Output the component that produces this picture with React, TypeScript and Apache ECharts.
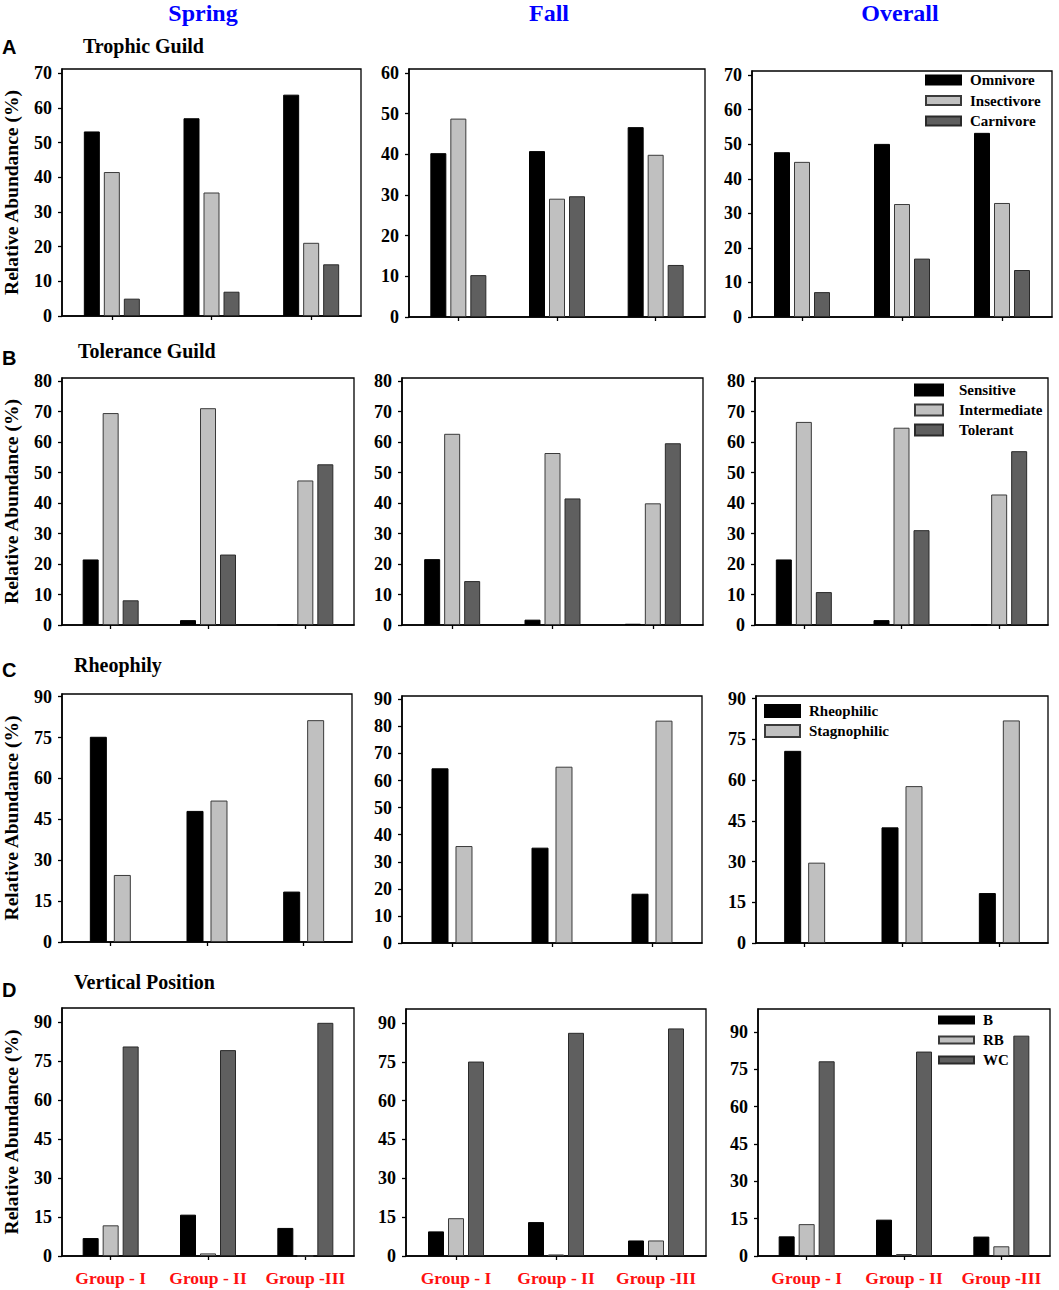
import React, { useEffect, useRef } from "react";
import * as echarts from "echarts";

// ---------- data ----------
const groups = ["Group - I", "Group - II", "Group -III"];
const seasons = ["Spring", "Fall", "Overall"];

const trophicNames = ["Omnivore", "Insectivore", "Carnivore"];
const trophicSpring = [[53.2, 57.0, 63.8], [41.5, 35.6, 21.1], [5.0, 7.0, 14.9]];
const trophicFall = [[40.3, 40.8, 46.7], [48.8, 29.1, 39.9], [10.3, 29.7, 12.8]];
const trophicOverall = [[47.7, 50.1, 53.3], [44.9, 32.7, 33.0], [7.2, 16.9, 13.6]];

const toleranceNames = ["Sensitive", "Intermediate", "Tolerant"];
const toleranceSpring = [[21.5, 1.6, 0], [69.5, 71.1, 47.4], [8.1, 23.1, 52.7]];
const toleranceFall = [[21.6, 1.75, 0.4], [62.7, 56.4, 39.9], [14.4, 41.5, 59.6]];
const toleranceOverall = [[21.5, 1.6, 0], [66.6, 64.7, 42.8], [10.8, 31.1, 57.0]];

const rheoNames = ["Rheophilic", "Stagnophilic"];
const rheoSpring = [[75.3, 48.1, 18.5], [24.6, 51.9, 81.4]];
const rheoFall = [[64.5, 35.2, 18.2], [35.8, 65.1, 82.1]];
const rheoOverall = [[70.8, 42.6, 18.4], [29.6, 57.8, 82.0]];

const vertNames = ["B", "RB", "WC"];
const vertSpring = [[6.9, 15.9, 10.8], [11.8, 1.0, 0], [80.6, 79.2, 89.7]];
const vertFall = [[9.5, 13.1, 6.0], [14.6, 0.6, 6.0], [75.1, 86.2, 87.9]];
const vertOverall = [[7.9, 14.6, 7.8], [12.8, 0.8, 3.9], [78.2, 82.1, 88.5]];

const ticks0to70 = [0, 10, 20, 30, 40, 50, 60, 70];
const ticks0to60 = [0, 10, 20, 30, 40, 50, 60];
const ticks0to80 = [0, 10, 20, 30, 40, 50, 60, 70, 80];
const ticks0to90by10 = [0, 10, 20, 30, 40, 50, 60, 70, 80, 90];
const ticks0to90by15 = [0, 15, 30, 45, 60, 75, 90];

const rowTitles = ["Trophic Guild", "Tolerance Guild", "Rheophily", "Vertical Position"];
const rowLetters = ["A", "B", "C", "D"];

// ---------- styling ----------
const SERIF = "'Liberation Serif', 'Times New Roman', serif";
const SANS = "'Liberation Sans', Arial, sans-serif";
const barColors = ["#000000", "#c0c0c0", "#5f5f5f"];
const barBorders = ["#000000", "#3a3a3a", "#2a2a2a"];

type Panel = {
  rect: [number, number, number, number];
  names: string[];
  data: number[][];
  ticks: number[];
  interval: number;
  max: number;
  barWidth: number;
  barGap: string;
  showX: boolean;
  yName: boolean;
};

const panels: Panel[] = [
  { rect: [61, 69, 361, 316], names: trophicNames, data: trophicSpring, ticks: ticks0to70, interval: 10, max: 71.2, barWidth: 16, barGap: "25%", showX: false, yName: true },
  { rect: [409, 69, 705, 317], names: trophicNames, data: trophicFall, ticks: ticks0to60, interval: 10, max: 61, barWidth: 16, barGap: "25%", showX: false, yName: false },
  { rect: [752, 71, 1052, 317], names: trophicNames, data: trophicOverall, ticks: ticks0to70, interval: 10, max: 71.2, barWidth: 16, barGap: "25%", showX: false, yName: false },

  { rect: [61, 378, 354, 625], names: toleranceNames, data: toleranceSpring, ticks: ticks0to80, interval: 10, max: 81, barWidth: 16, barGap: "25%", showX: false, yName: true },
  { rect: [402, 378, 703, 625], names: toleranceNames, data: toleranceFall, ticks: ticks0to80, interval: 10, max: 81, barWidth: 16, barGap: "25%", showX: false, yName: false },
  { rect: [755, 378, 1048, 625], names: toleranceNames, data: toleranceOverall, ticks: ticks0to80, interval: 10, max: 81, barWidth: 16, barGap: "25%", showX: false, yName: false },

  { rect: [61, 694, 352, 942], names: rheoNames, data: rheoSpring, ticks: ticks0to90by15, interval: 15, max: 91, barWidth: 17, barGap: "41%", showX: false, yName: true },
  { rect: [402, 696, 702, 943], names: rheoNames, data: rheoFall, ticks: ticks0to90by10, interval: 10, max: 91.2, barWidth: 17, barGap: "41%", showX: false, yName: false },
  { rect: [756, 696, 1048, 943], names: rheoNames, data: rheoOverall, ticks: ticks0to90by15, interval: 15, max: 91, barWidth: 17, barGap: "41%", showX: false, yName: false },

  { rect: [62, 1008, 354, 1256], names: vertNames, data: vertSpring, ticks: ticks0to90by15, interval: 15, max: 95.4, barWidth: 16, barGap: "25%", showX: true, yName: true },
  { rect: [406, 1009, 706, 1256], names: vertNames, data: vertFall, ticks: ticks0to90by15, interval: 15, max: 95.4, barWidth: 16, barGap: "25%", showX: true, yName: false },
  { rect: [758, 1009, 1050, 1256], names: vertNames, data: vertOverall, ticks: ticks0to90by15, interval: 15, max: 99.2, barWidth: 16, barGap: "25%", showX: true, yName: false },
];

const legendSpecs = [
  { names: trophicNames, left: 925, top: 72, itemWidth: 35, itemHeight: 9, itemGap: 4.5, pad: 4 },
  { names: toleranceNames, left: 914, top: 382, itemWidth: 28, itemHeight: 11, itemGap: 4, pad: 11 },
  { names: rheoNames, left: 764, top: 703, itemWidth: 35, itemHeight: 12, itemGap: 4, pad: 4 },
  { names: vertNames, left: 938, top: 1012, itemWidth: 35, itemHeight: 7, itemGap: 4, pad: 4 },
];

function buildOption() {
  const grid: any[] = [];
  const xAxis: any[] = [];
  const yAxis: any[] = [];
  const series: any[] = [];

  panels.forEach((p, i) => {
    const [l, t, r, b] = p.rect;
    grid.push({
      left: l, top: t, width: r - l, height: b - t,
      show: true, borderColor: "#000", borderWidth: 1.3, backgroundColor: "transparent",
      containLabel: false,
    });
    xAxis.push({
      type: "category", gridIndex: i, data: groups,
      axisLine: { show: true, lineStyle: { color: "#000", width: 1.6 } },
      axisTick: { show: true, alignWithLabel: true, interval: 0, length: 4, lineStyle: { color: "#000", width: 1.3 } },
      axisLabel: {
        show: p.showX, interval: 0, margin: 13, color: "#ff1010",
        fontFamily: SERIF, fontWeight: "bold", fontSize: 17.5,
      },
      splitLine: { show: false },
    });
    yAxis.push({
      type: "value", gridIndex: i, min: 0, max: p.max, interval: p.interval,
      name: p.yName ? "Relative Abundance (%)" : "",
      nameLocation: "middle", nameGap: 41, nameRotate: 90,
      nameTextStyle: { fontFamily: SERIF, fontWeight: "bold", fontSize: 19.5, color: "#000" },
      axisLine: { show: true, lineStyle: { color: "#000", width: 1.6 } },
      axisTick: { show: true, inside: false, length: 4, customValues: p.ticks, lineStyle: { color: "#000", width: 1.3 } },
      axisLabel: {
        show: true, margin: 10, customValues: p.ticks, color: "#000",
        fontFamily: SERIF, fontWeight: "bold", fontSize: 18,
      },
      splitLine: { show: false },
    });
    p.names.forEach((name, s) => {
      series.push({
        type: "bar", name, xAxisIndex: i, yAxisIndex: i,
        data: p.data[s], barWidth: p.barWidth, barGap: p.barGap,
        itemStyle: { color: barColors[s], borderColor: barBorders[s], borderWidth: 1 },
        emphasis: { disabled: true },
      });
    });
  });

  const legend = legendSpecs.map((L) => ({
    data: L.names, orient: "vertical", left: L.left, top: L.top, padding: 0,
    itemWidth: L.itemWidth, itemHeight: L.itemHeight, itemGap: L.itemGap,
    icon: "rect", selectedMode: false,
    textStyle: { fontFamily: SERIF, fontWeight: "bold", fontSize: 15, color: "#000", lineHeight: 16, padding: [0, 0, 0, L.pad] },
  }));

  const colCenters = [203, 549, 900];
  const graphic: any[] = [];
  seasons.forEach((s, i) => {
    graphic.push({
      type: "text", x: colCenters[i], y: 13,
      style: { text: s, fill: "#0000ff", font: `bold 24px ${SERIF}`, align: "center", verticalAlign: "middle" },
    });
  });
  const letterY = [47, 358, 670, 990];
  const titleY = [46, 351, 665, 982];
  const titleX = [83, 78, 74, 74];
  rowTitles.forEach((t, i) => {
    graphic.push({
      type: "text", x: 2, y: letterY[i],
      style: { text: rowLetters[i], fill: "#000", font: `bold 20px ${SANS}`, verticalAlign: "middle" },
    });
    graphic.push({
      type: "text", x: titleX[i], y: titleY[i],
      style: { text: t, fill: "#000", font: `bold 20px ${SERIF}`, verticalAlign: "middle" },
    });
  });

  return {
    animation: false,
    backgroundColor: "#ffffff",
    textStyle: { fontFamily: SERIF },
    grid, xAxis, yAxis, series, legend, graphic,
  };
}

export default function App() {
  const ref = useRef<HTMLDivElement>(null);
  useEffect(() => {
    if (!ref.current) return;
    const chart = echarts.init(ref.current, undefined, { renderer: "svg" });
    chart.setOption(buildOption() as any);
    return () => chart.dispose();
  }, []);
  return (
    <div
      ref={ref}
      style={{ position: "absolute", left: 0, top: 0, width: 1059, height: 1290, background: "#fff" }}
    />
  );
}
